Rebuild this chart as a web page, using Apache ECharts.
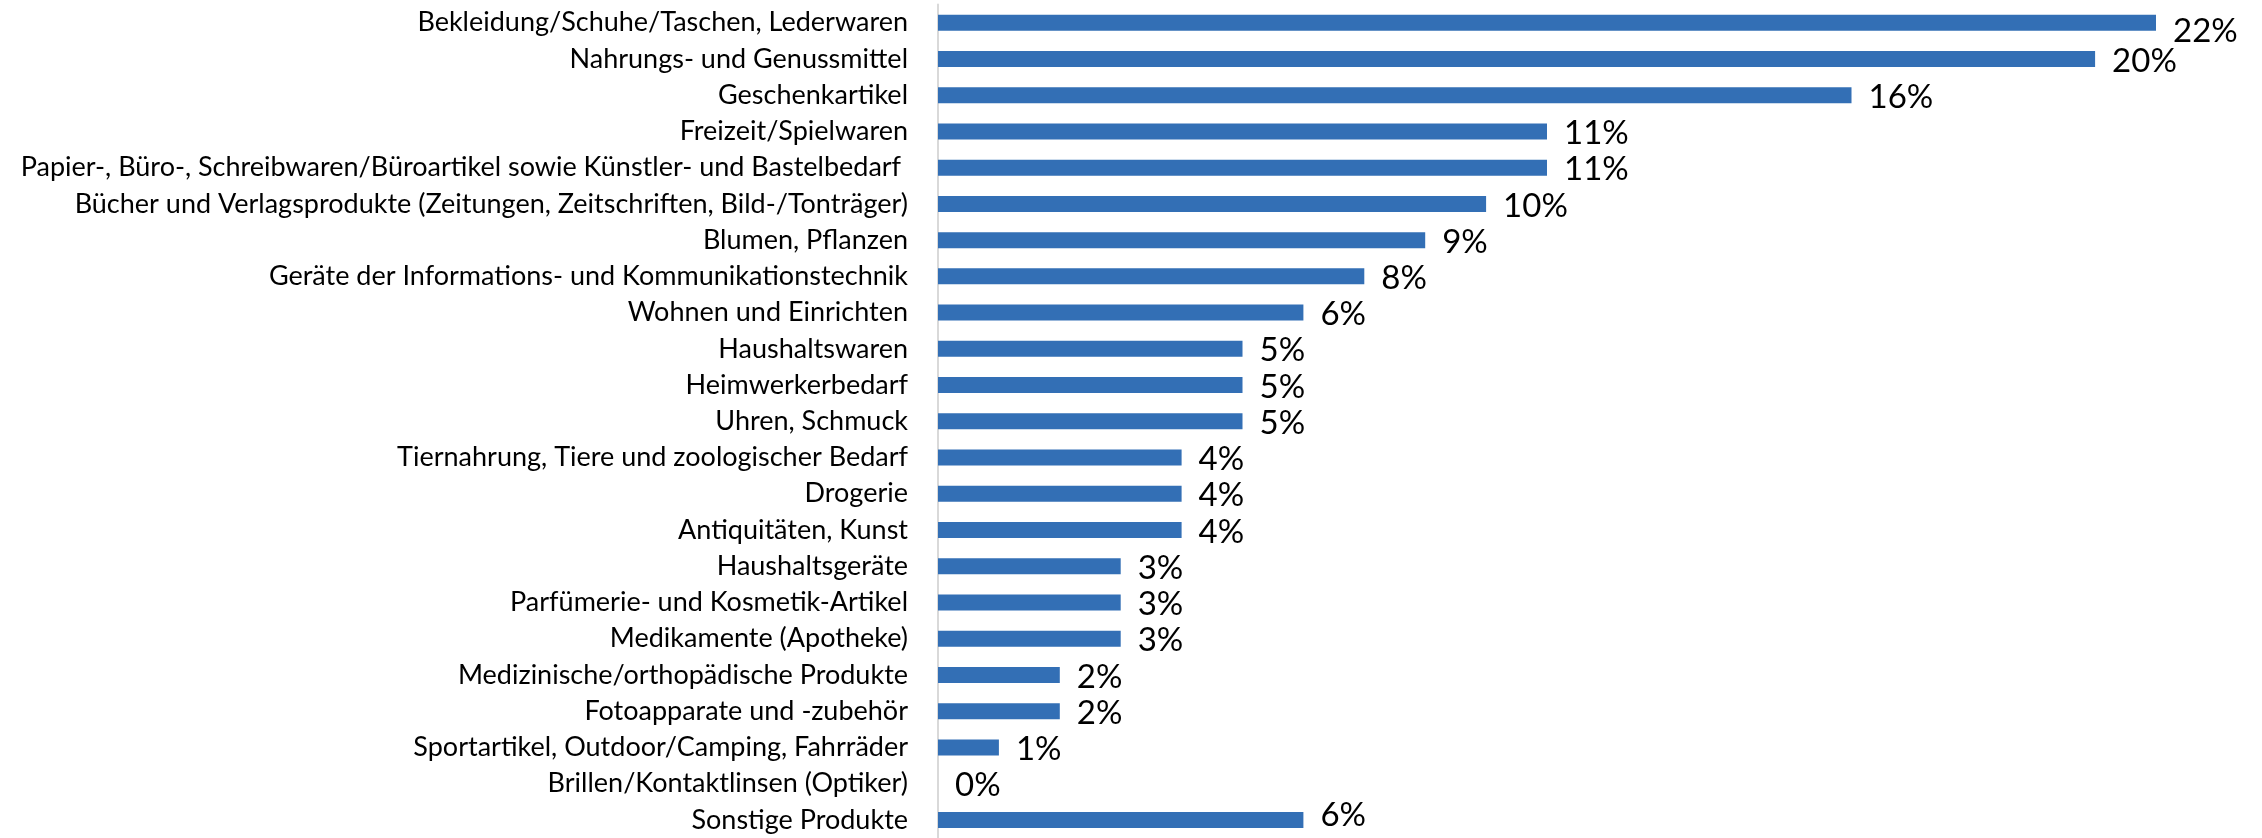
<!DOCTYPE html>
<html>
<head>
<meta charset="utf-8">
<script src="https://cdn.jsdelivr.net/npm/echarts@6/dist/echarts.min.js"></script>
<style>
  html, body { margin: 0; padding: 0; background: #fff; }
  #chart { width: 2262px; height: 838px; }
</style>
</head>
<body>
<div id="chart"></div>
<script>
// Kategorien von oben nach unten
const categories = [
  'Bekleidung/Schuhe/Taschen, Lederwaren',
  'Nahrungs- und Genussmittel',
  'Geschenkartikel',
  'Freizeit/Spielwaren',
  'Papier-, Büro-, Schreibwaren/Büroartikel sowie Künstler- und Bastelbedarf ',
  'Bücher und Verlagsprodukte (Zeitungen, Zeitschriften, Bild-/Tonträger)',
  'Blumen, Pflanzen',
  'Geräte der Informations- und Kommunikationstechnik',
  'Wohnen und Einrichten',
  'Haushaltswaren',
  'Heimwerkerbedarf',
  'Uhren, Schmuck',
  'Tiernahrung, Tiere und zoologischer Bedarf',
  'Drogerie',
  'Antiquitäten, Kunst',
  'Haushaltsgeräte',
  'Parfümerie- und Kosmetik-Artikel',
  'Medikamente (Apotheke)',
  'Medizinische/orthopädische Produkte',
  'Fotoapparate und -zubehör',
  'Sportartikel, Outdoor/Camping, Fahrräder',
  'Brillen/Kontaktlinsen (Optiker)',
  'Sonstige Produkte'
]

// Nennungen (Balkenlänge)
const counts = [20, 19, 15, 10, 10, 9, 8, 7, 6, 5, 5, 5, 4, 4, 4, 3, 3, 3, 2, 2, 1, 0, 6]

// angezeigte Anteile in %
const shares = [22, 20, 16, 11, 11, 10, 9, 8, 6, 5, 5, 5, 4, 4, 4, 3, 3, 3, 2, 2, 1, 0, 6]

// erstes Label etwas nach unten, letztes nach oben geschoben (wie im Original)
const barData = counts.map((v, i) => {
  let dy = 2
  if (i === 0) dy = 9
  if (i === counts.length - 1) dy = -5
  return { value: v, label: { offset: [0, dy] } }
})

var myChart = echarts.init(document.getElementById('chart'))
var option = {
  animation: false,
  grid: {
    left: 938,
    top: 4.6,
    width: 1218,
    height: 836.4
  },
  xAxis: {
    type: 'value',
    min: 0,
    max: 20,
    show: false
  },
  yAxis: {
    type: 'category',
    inverse: true,
    data: categories,
    axisTick: { show: false },
    axisLine: {
      show: true,
      lineStyle: { color: '#d9d9d9', width: 2 }
    },
    axisLabel: {
      margin: 30,
      color: '#000',
      fontFamily: 'Lato',
      fontSize: 27
    }
  },
  series: [{
    type: 'bar',
    data: barData,
    barWidth: 16,
    itemStyle: { color: '#336fb5' },
    label: {
      show: true,
      position: 'right',
      distance: 17,
      color: '#000',
      fontFamily: 'Lato',
      fontSize: 33,
      formatter: function (p) {
        return shares[p.dataIndex] + '%'
      }
    }
  }]
}
myChart.setOption(option)
</script>
</body>
</html>
